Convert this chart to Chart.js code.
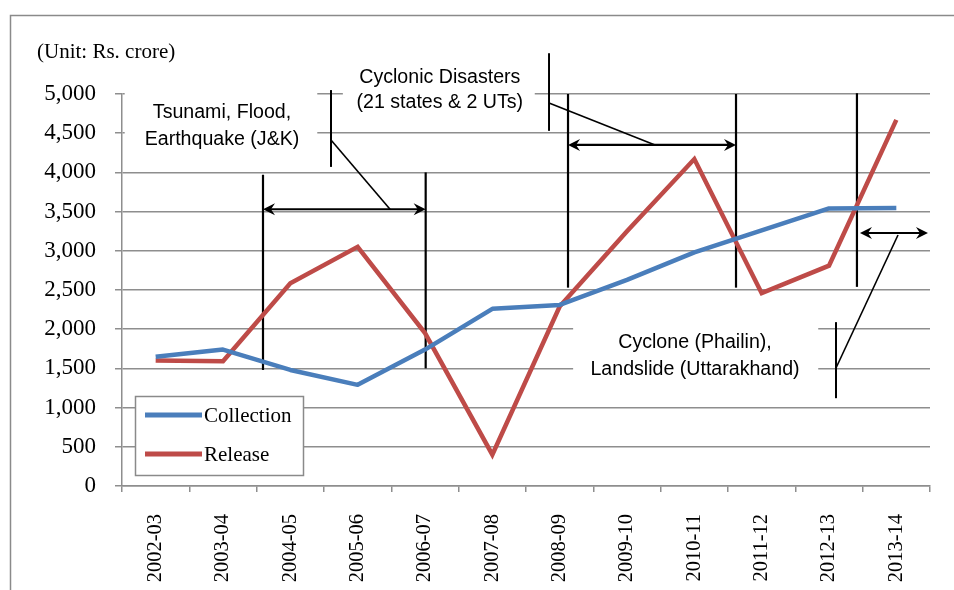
<!DOCTYPE html>
<html>
<head>
<meta charset="utf-8">
<script src="https://cdn.jsdelivr.net/npm/chart.js@4/dist/chart.umd.min.js"></script>
<style>
  html, body { margin: 0; padding: 0; background: #ffffff; }
  #wrap { position: relative; width: 954px; height: 590px; }
</style>
</head>
<body>
<div id="wrap"><canvas id="chart" width="954" height="590"></canvas></div>
<script>
// Financial years on the category axis
const years = ['2002-03', '2003-04', '2004-05', '2005-06', '2006-07', '2007-08',
               '2008-09', '2009-10', '2010-11', '2011-12', '2012-13', '2013-14'];

// Amounts in Rs. crore
const collection = [1650, 1740, 1480, 1290, 1740, 2260, 2310, 2630, 2980, 3260, 3540, 3545];
const release    = [1600, 1590, 2585, 3050, 1950, 400, 2290, 3250, 4170, 2460, 2810, 4670];

// Value axis range
const yMin = 0;
const yMax = 5000;
const yStep = 500;

const unitNote = '(Unit: Rs. crore)';

// Disaster periods: brackets, arrows and their callout texts (in axis units:
// x = category index, y = Rs. crore)
const calloutTexts = [
  { lines: ['Tsunami, Flood,', 'Earthquake (J&K)'], x: 0.985, y: [4758, 4413],
    box: { x0: -0.46, x1: 2.40, y0: 5100, y1: 4170 } },
  { lines: ['Cyclonic Disasters', '(21 states & 2 UTs)'], x: 4.22, y: [5214, 4885],
    box: { x0: 2.78, x1: 5.63, y0: 5450, y1: 4620 } },
  { lines: ['Cyclone (Phailin),', 'Landslide (Uttarakhand)'], x: 8.01, y: [1824, 1480],
    box: { x0: 6.20, x1: 9.84, y0: 2140, y1: 1200 } }
];
const brackets = [
  { x: 1.594, y0: 3970, y1: 1480 },
  { x: 4.01,  y0: 4000, y1: 1500 },
  { x: 6.124, y0: 5000, y1: 2530 },
  { x: 8.619, y0: 5000, y1: 2530 },
  { x: 10.415, y0: 5010, y1: 2540 }
];
const spans = [
  { x0: 1.594, x1: 4.01, y: 3530 },
  { x0: 6.124, x1: 8.619, y: 4350 },
  { x0: 10.46, x1: 11.47, y: 3227 }
];
const pointers = [
  { tick: { x: 2.604, y0: 5050, y1: 4070 }, from: [2.604, 4413], to: [3.481, 3530] },
  { tick: { x: 5.842, y0: 5520, y1: 4530 }, from: [5.842, 4885], to: [7.416, 4350] },
  { tick: { x: 10.104, y0: 2090, y1: 1120 }, from: [10.104, 1505], to: [11.025, 3202] }
];

const BLUE = '#4A7EBB';
const RED = '#BE4B48';
const GRID = '#8e8e8e';
const SERIF = '"Liberation Serif", "Times New Roman", serif';
const SANS = '"Liberation Sans", Arial, sans-serif';

function arrowHead(ctx, tipX, tipY, dir) {
  // dir: +1 points right, -1 points left
  const len = 12, half = 6, notch = 8;
  ctx.beginPath();
  ctx.moveTo(tipX, tipY);
  ctx.lineTo(tipX - dir * len, tipY - half);
  ctx.lineTo(tipX - dir * notch, tipY);
  ctx.lineTo(tipX - dir * len, tipY + half);
  ctx.closePath();
  ctx.fill();
}

// Frame, unit note, callouts and legend
const decorations = {
  id: 'decorations',
  beforeDraw(chart) {
    const ctx = chart.ctx;
    ctx.save();
    ctx.fillStyle = '#ffffff';
    ctx.fillRect(0, 0, chart.width, chart.height);
    ctx.strokeStyle = '#8a8a8a';
    ctx.lineWidth = 1.5;
    ctx.strokeRect(10.5, 15.5, 1200, 1200);
    ctx.fillStyle = '#000';
    ctx.font = '21px ' + SERIF;
    ctx.textAlign = 'left';
    ctx.textBaseline = 'middle';
    ctx.fillText(unitNote, 37, 52);
    ctx.restore();
  },
  beforeDatasetsDraw(chart) {
    const ctx = chart.ctx;
    const xs = chart.scales.x, ys = chart.scales.y;
    const X = v => xs.getPixelForValue(v);
    const Y = v => ys.getPixelForValue(v);
    ctx.save();

    // text boxes (white, covering gridlines)
    calloutTexts.forEach(t => {
      ctx.fillStyle = '#ffffff';
      const bx0 = X(t.box.x0), bx1 = X(t.box.x1);
      const by0 = Y(t.box.y0), by1 = Y(t.box.y1);
      ctx.fillRect(bx0, by0, bx1 - bx0, by1 - by0);
      ctx.fillStyle = '#000';
      ctx.font = '19.6px ' + SANS;
      ctx.textAlign = 'center';
      ctx.textBaseline = 'middle';
      t.lines.forEach((line, k) => ctx.fillText(line, X(t.x), Y(t.y[k])));
    });

    ctx.strokeStyle = '#000';
    ctx.fillStyle = '#000';
    ctx.lineCap = 'butt';

    // vertical brackets
    ctx.lineWidth = 2.2;
    brackets.forEach(b => {
      ctx.beginPath();
      ctx.moveTo(X(b.x), Y(b.y0));
      ctx.lineTo(X(b.x), Y(b.y1));
      ctx.stroke();
    });

    // double-headed span arrows
    ctx.lineWidth = 2.2;
    spans.forEach(s => {
      const y = Y(s.y), x0 = X(s.x0), x1 = X(s.x1);
      ctx.beginPath();
      ctx.moveTo(x0 + 6, y);
      ctx.lineTo(x1 - 6, y);
      ctx.stroke();
      arrowHead(ctx, x0, y, -1);
      arrowHead(ctx, x1, y, 1);
    });

    // callout pointers
    pointers.forEach(p => {
      ctx.lineWidth = 2;
      ctx.beginPath();
      ctx.moveTo(X(p.tick.x), Y(p.tick.y0));
      ctx.lineTo(X(p.tick.x), Y(p.tick.y1));
      ctx.stroke();
      ctx.lineWidth = 1.6;
      ctx.beginPath();
      ctx.moveTo(X(p.from[0]), Y(p.from[1]));
      ctx.lineTo(X(p.to[0]), Y(p.to[1]));
      ctx.stroke();
    });
    ctx.restore();
  },
  afterDraw(chart) {
    // legend box
    const ctx = chart.ctx;
    ctx.save();
    ctx.fillStyle = '#ffffff';
    ctx.fillRect(135, 396, 168, 79);
    ctx.strokeStyle = '#8a8a8a';
    ctx.lineWidth = 1.5;
    ctx.strokeRect(135.5, 396.5, 168, 79);
    const rows = [415, 454];
    chart.data.datasets.forEach((ds, k) => {
      ctx.strokeStyle = ds.borderColor;
      ctx.lineWidth = 5;
      ctx.beginPath();
      ctx.moveTo(145, rows[k]);
      ctx.lineTo(202, rows[k]);
      ctx.stroke();
      ctx.fillStyle = '#000';
      ctx.font = '21px ' + SERIF;
      ctx.textAlign = 'left';
      ctx.textBaseline = 'middle';
      ctx.fillText(ds.label, 204, rows[k] + 1);
    });
    ctx.restore();
  }
};

new Chart(document.getElementById('chart'), {
  type: 'line',
  data: {
    labels: years,
    datasets: [
      { label: 'Collection', data: collection, borderColor: BLUE, backgroundColor: BLUE,
        borderWidth: 4.5, pointRadius: 0, tension: 0, borderJoinStyle: 'round' },
      { label: 'Release', data: release, borderColor: RED, backgroundColor: RED,
        borderWidth: 4.5, pointRadius: 0, tension: 0, borderJoinStyle: 'miter' }
    ]
  },
  options: {
    responsive: false,
    animation: false,
    devicePixelRatio: 1,
    layout: { padding: { top: 94, right: 24, left: 0, bottom: 0 } },
    plugins: {
      legend: { display: false },
      tooltip: { enabled: false }
    },
    scales: {
      x: {
        type: 'category',
        offset: true,
        grid: { offset: true, drawOnChartArea: false, drawTicks: true, tickLength: 6,
                color: GRID, lineWidth: 1.5 },
        border: { display: true, color: GRID, width: 1.5 },
        ticks: { color: '#000', font: { family: SERIF, size: 20.5 },
                 minRotation: 90, maxRotation: 90, padding: 22, autoSkip: false },
        afterFit(scale) { scale.height = 104; }
      },
      y: {
        min: yMin, max: yMax,
        grid: { color: GRID, lineWidth: 1.5, tickLength: 7 },
        border: { display: true, color: GRID, width: 1.5 },
        ticks: { stepSize: yStep, color: '#000', font: { family: SERIF, size: 23 }, padding: 19,
                 callback: v => v.toLocaleString('en-US') },
        afterFit(scale) { scale.width = 122; }
      }
    }
  },
  plugins: [decorations]
});
</script>
</body>
</html>
